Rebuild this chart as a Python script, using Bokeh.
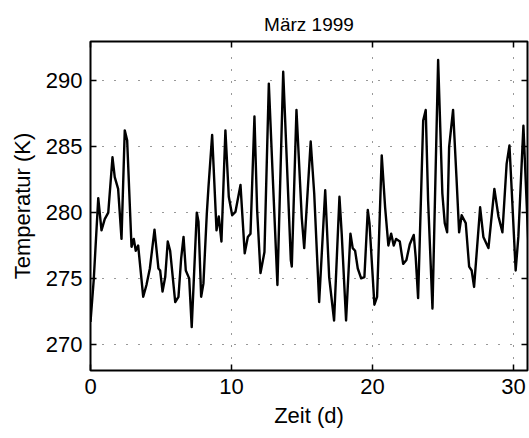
from bokeh.plotting import figure
from bokeh.models import LinearAxis, Range1d, FixedTicker, ColumnDataSource
from bokeh.embed import file_html
from bokeh.resources import INLINE

# Data (time in days, temperature in K)
zeit_d = [0.00, 0.23, 0.55, 0.78, 1.01, 1.26, 1.56, 1.72, 1.96, 2.20,
          2.43, 2.60, 2.91, 3.07, 3.21, 3.38, 3.74, 3.97, 4.21, 4.35,
          4.54, 4.82, 4.94, 5.11, 5.30, 5.48, 5.65, 6.01, 6.24, 6.43,
          6.60, 6.76, 7.00, 7.18, 7.54, 7.66, 7.85, 8.01, 8.25, 8.37,
          8.63, 8.94, 9.10, 9.29, 9.57, 9.81, 10.05, 10.28, 10.64, 10.94,
          11.16, 11.35, 11.63, 11.82, 12.06, 12.34, 12.65, 12.91, 13.26, 13.67,
          14.21, 14.28, 14.61, 14.99, 15.16, 15.62, 15.87, 16.22, 16.65, 16.93,
          17.28, 17.66, 17.82, 18.13, 18.44, 18.60, 18.77, 18.96, 19.20, 19.43,
          19.67, 19.79, 20.14, 20.33, 20.66, 20.90, 21.13, 21.33, 21.51, 21.68,
          21.94, 22.18, 22.41, 22.65, 22.93, 23.07, 23.24, 23.60, 23.78, 23.95,
          24.26, 24.66, 24.96, 25.13, 25.30, 25.44, 25.72, 25.96, 26.15, 26.33,
          26.62, 26.86, 27.04, 27.21, 27.64, 27.87, 28.23, 28.65, 28.94, 29.22,
          29.52, 29.72, 29.88, 30.16, 30.35, 30.71, 31.05]
temperatur_k = [271.7, 274.9, 281.1, 278.65, 279.5, 280.0, 284.2, 282.7, 281.8, 278.0,
                286.25, 285.5, 277.4, 278.0, 277.1, 277.5, 273.6, 274.5, 275.75, 277.0,
                278.7, 275.75, 275.6, 274.0, 275.1, 277.8, 277.1, 273.2, 273.6, 276.5,
                278.15, 275.6, 275.0, 271.3, 280.0, 279.3, 273.6, 274.6, 279.9, 281.95,
                285.9, 278.65, 279.7, 277.8, 286.25, 281.2, 279.8, 280.05, 282.1, 276.9,
                278.15, 278.4, 287.3, 280.2, 275.4, 277.0, 289.8, 283.2, 274.5, 290.7,
                276.4, 275.9, 287.8, 279.55, 277.3, 285.4, 281.45, 273.2, 281.7, 275.1,
                271.8, 281.2, 278.4, 271.8, 278.4, 277.3, 277.1, 275.75, 275.0, 275.1,
                280.2, 279.2, 273.0, 273.6, 284.35, 280.4, 277.5, 278.4, 277.5, 278.0,
                277.8, 276.1, 276.4, 277.6, 278.3, 276.6, 273.5, 287.0, 287.8, 280.9,
                272.7, 291.6, 281.45, 279.2, 278.5, 285.0, 287.8, 282.7, 278.5, 279.8,
                279.2, 275.9, 275.6, 274.35, 280.4, 278.15, 277.3, 281.8, 279.7, 278.5,
                283.7, 285.1, 281.7, 275.6, 278.15, 286.6, 277.9]

x_ticks = [0, 10, 20, 30]
y_ticks = [270, 275, 280, 285, 290]

FONT = "Liberation Sans"

p = figure(width=529, height=438, output_backend="svg", toolbar_location=None,
           x_range=Range1d(0, 31), y_range=Range1d(268, 293),
           min_border_left=90, min_border_right=2, min_border_top=41,
           min_border_bottom=68, title="März 1999")

p.title.text_font = FONT
p.title.text_font_size = "19px"
p.title.text_font_style = "normal"
p.title.align = "center"
p.title.text_color = "black"
p.title.standoff = 14

src = ColumnDataSource(dict(x=zeit_d, y=temperatur_k))
p.line("x", "y", source=src, line_color="black", line_width=2.4, line_join="round")

p.outline_line_color = "black"
p.outline_line_width = 2
p.outline_line_alpha = 1
p.background_fill_color = "white"
p.border_fill_color = "white"

for ax in (p.xaxis[0], p.yaxis[0]):
    ax.major_label_text_font = FONT
    ax.major_label_text_font_size = "22px"
    ax.major_label_text_color = "black"
    ax.axis_label_text_font = FONT
    ax.axis_label_text_font_size = "22px"
    ax.axis_label_text_font_style = "normal"
    ax.axis_label_text_color = "black"
    ax.major_tick_in = 6
    ax.major_tick_out = 0
    ax.minor_tick_in = 0
    ax.minor_tick_out = 0
    ax.major_tick_line_color = "black"
    ax.major_tick_line_width = 1.5
    ax.axis_line_color = None

p.xaxis[0].ticker = FixedTicker(ticks=x_ticks)
p.yaxis[0].ticker = FixedTicker(ticks=y_ticks)
p.xaxis[0].axis_label = "Zeit (d)"
p.yaxis[0].axis_label = "Temperatur (K)"
p.xaxis[0].major_label_standoff = 8
p.yaxis[0].major_label_standoff = 8
p.xaxis[0].axis_label_standoff = 6
p.yaxis[0].axis_label_standoff = 8

top = LinearAxis(ticker=FixedTicker(ticks=x_ticks), major_label_text_font_size="0px",
                 major_label_text_color=None,
                 major_tick_in=6, major_tick_out=0, minor_tick_in=0, minor_tick_out=0,
                 major_tick_line_color="black", major_tick_line_width=1.5,
                 axis_line_color=None, major_label_standoff=0)
right = LinearAxis(ticker=FixedTicker(ticks=y_ticks), major_label_text_font_size="0px",
                   major_label_text_color=None,
                   major_tick_in=6, major_tick_out=0, minor_tick_in=0, minor_tick_out=0,
                   major_tick_line_color="black", major_tick_line_width=1.5,
                   axis_line_color=None, major_label_standoff=0)
p.add_layout(top, "above")
p.add_layout(right, "right")

for g in (p.xgrid[0], p.ygrid[0]):
    g.grid_line_color = "black"
    g.grid_line_dash = "1 11"
    g.grid_line_width = 1
    g.grid_line_alpha = 0.8
p.xgrid[0].ticker = FixedTicker(ticks=x_ticks)
p.ygrid[0].ticker = FixedTicker(ticks=y_ticks)

open("out.html", "w").write(file_html(p, INLINE))
